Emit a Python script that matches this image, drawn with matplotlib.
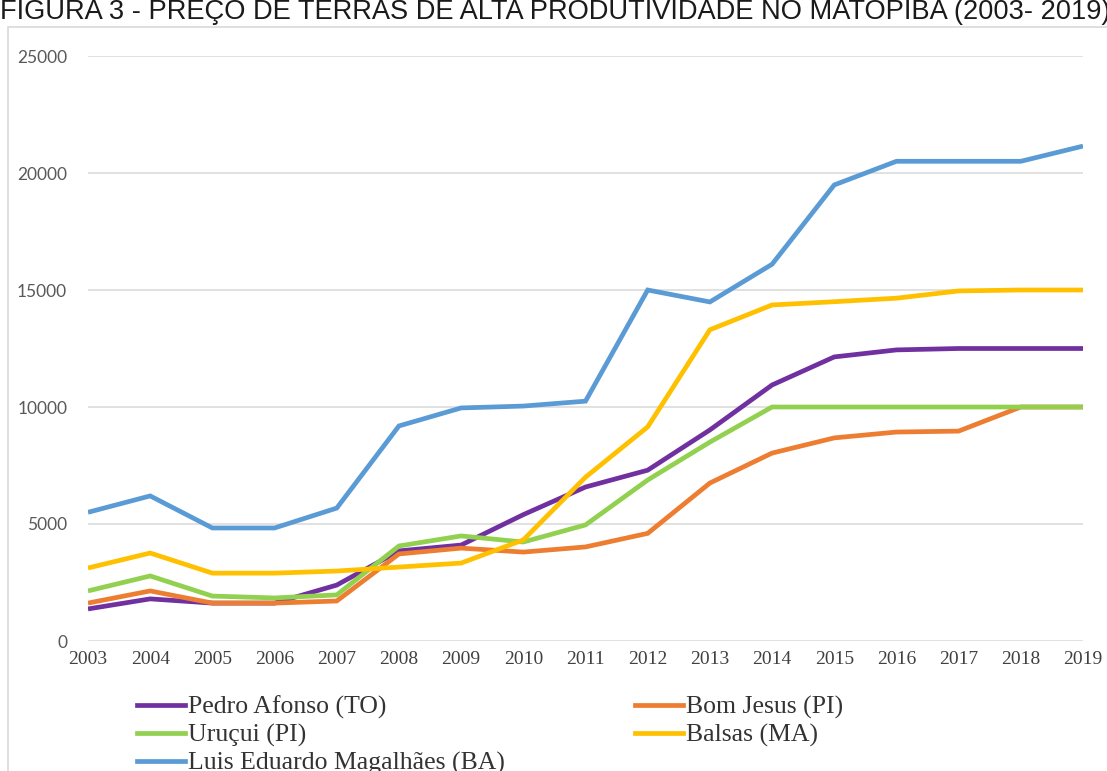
import matplotlib
matplotlib.use("Agg")
import matplotlib.pyplot as plt
from matplotlib.patches import Rectangle
from matplotlib.lines import Line2D

# Data (R$/ha)
years = list(range(2003, 2020))
pedro_afonso = [1370, 1800, 1620, 1620, 2390, 3850, 4100, 5400, 6580, 7300, 9020, 10940, 12140, 12440, 12500, 12500, 12500]
bom_jesus = [1620, 2140, 1620, 1620, 1710, 3720, 3970, 3800, 4020, 4600, 6750, 8030, 8680, 8930, 8970, 10000, 10000]
urucui = [2140, 2780, 1920, 1840, 1970, 4060, 4490, 4230, 4960, 6880, 8500, 10000, 10000, 10000, 10000, 10000, 10000]
balsas = [3120, 3760, 2900, 2900, 2990, 3160, 3330, 4320, 7000, 9150, 13300, 14360, 14500, 14650, 14960, 15000, 15000]
lem = [5500, 6200, 4830, 4830, 5680, 9190, 9960, 10040, 10250, 15000, 14490, 16100, 19490, 20500, 20500, 20500, 21150]

labels = ["Pedro Afonso (TO)", "Bom Jesus (PI)", "Uruçui (PI)", "Balsas (MA)", "Luis Eduardo Magalhães (BA)"]
colors = ["#7030A0", "#ED7D31", "#92D050", "#FFC000", "#5B9BD5"]
series = [pedro_afonso, bom_jesus, urucui, balsas, lem]

W, H = 1107, 771
fig = plt.figure(figsize=(W / 100, H / 100), dpi=100)

# light chart frame
fig.add_artist(Rectangle((8 / W, -0.05), 1.2, 1 - 27 / H + 0.05, transform=fig.transFigure,
                         fill=False, edgecolor="#D9D9D9", linewidth=1.2))

# title (top slightly clipped as in the source)
fig.text(0.0, 1 - 19 / H, "FIGURA 3 - PREÇO DE TERRAS DE ALTA PRODUTIVIDADE NO MATOPIBA (2003- 2019)",
         family="Liberation Sans", fontsize=19.6, color="#1a1a1a",
         ha="left", va="baseline")

ax = fig.add_axes([88 / W, 1 - 641 / H, (1083 - 88) / W, (641 - 56) / H])
for s, c, lab in zip(series, colors, labels):
    ax.plot(years, s, color=c, linewidth=3.4, label=lab, solid_capstyle="butt", solid_joinstyle="miter")

ax.set_xlim(2003, 2019)
ax.set_ylim(0, 25000)
ax.set_yticks(range(0, 25001, 5000))
ax.set_xticks(years)
ax.grid(axis="y", color="#D9D9D9", linewidth=1.1)
ax.set_axisbelow(True)
for sp in ax.spines.values():
    sp.set_visible(False)
ax.tick_params(axis="both", length=0)
ax.tick_params(axis="y", pad=15, labelcolor="#595959")
ax.tick_params(axis="x", pad=7, labelcolor="#404040")
for t in ax.get_yticklabels():
    t.set_family("Lato")
    t.set_fontsize(12.5)
for t in ax.get_xticklabels():
    t.set_family("Liberation Serif")
    t.set_fontsize(14)

# legend: two columns placed like the source
handles = [Line2D([], [], color=c, linewidth=3.4) for c in colors]
leg_kw = dict(frameon=False, loc="upper left", handlelength=1.85, handletextpad=0.12,
              labelspacing=0.18, borderpad=0, borderaxespad=0,
              prop={"family": "Liberation Serif", "size": 18.5}, labelcolor="#333333")
leg1 = fig.legend([handles[0], handles[2], handles[4]], [labels[0], labels[2], labels[4]],
                  bbox_to_anchor=(137 / W, 1 - 696 / H), **leg_kw)
leg2 = fig.legend([handles[1], handles[3]], [labels[1], labels[3]],
                  bbox_to_anchor=(635 / W, 1 - 696 / H), **leg_kw)

fig.savefig("out.png", dpi=100)
